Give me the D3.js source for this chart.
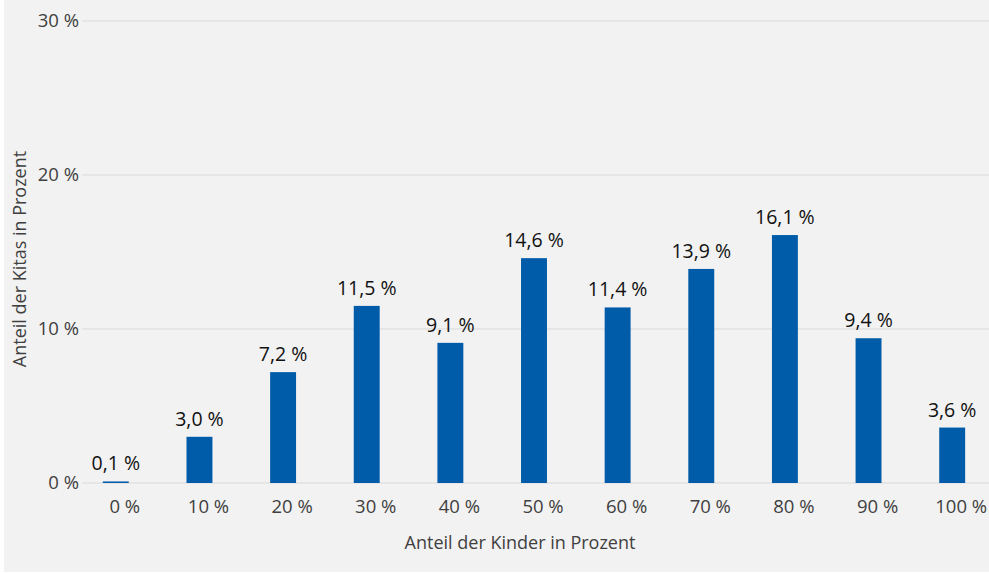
<!DOCTYPE html>
<html>
<head>
<meta charset="utf-8">
<script src="https://cdn.jsdelivr.net/npm/d3@7"></script>
<style>
  body { margin: 0; background: #fff; }
  text { font-family: "Open Sans", "Noto Sans", sans-serif; }
</style>
</head>
<body>
<svg width="989" height="573"></svg>
<script>
const categories = ["0 %", "10 %", "20 %", "30 %", "40 %", "50 %", "60 %", "70 %", "80 %", "90 %", "100 %"];
const values = [0.1, 3.0, 7.2, 11.5, 9.1, 14.6, 11.4, 13.9, 16.1, 9.4, 3.6];
const y_ticks = [0, 10, 20, 30];

const svg = d3.select("svg");

// grey panel behind the chart
svg.append("rect")
  .attr("x", 4).attr("y", 0)
  .attr("width", 985).attr("height", 572)
  .attr("fill", "#f2f2f2");

const x = d3.scaleBand().domain(categories).range([74, 994]).paddingInner(0.69).paddingOuter(0.345);
const y = d3.scaleLinear().domain([0, 30]).range([483, 21]);

const fmt = d => d.toFixed(1).replace(".", ",") + " %";

// gridlines
svg.append("g").selectAll("line")
  .data(y_ticks)
  .join("line")
  .attr("x1", 82).attr("x2", 989)
  .attr("y1", d => y(d)).attr("y2", d => y(d))
  .attr("stroke", "#d9d9d9")
  .attr("stroke-width", 1);

// y axis labels
const y_axis = svg.append("g")
  .attr("transform", "translate(80,0)")
  .call(d3.axisLeft(y).tickValues(y_ticks).tickSize(0).tickPadding(1).tickFormat(d => d + " %"));
y_axis.select(".domain").remove();
y_axis.selectAll("text").attr("font-size", 18.5).attr("fill", "#404040")
  .attr("font-family", "'Open Sans', sans-serif");

// x axis labels (sit a little right of the bar centres in the original)
const x_axis = svg.append("g")
  .attr("transform", "translate(9,483)")
  .call(d3.axisBottom(x).tickSize(0).tickPadding(17));
x_axis.select(".domain").remove();
x_axis.selectAll("text").attr("font-size", 18.5).attr("fill", "#404040")
  .attr("font-family", "'Open Sans', sans-serif");

// bars
svg.append("g").selectAll("rect")
  .data(values)
  .join("rect")
  .attr("x", (d, i) => x(categories[i]))
  .attr("y", d => y(d))
  .attr("width", x.bandwidth())
  .attr("height", d => y(0) - y(d))
  .attr("fill", "#005ca9");

// value labels
svg.append("g").selectAll("text")
  .data(values)
  .join("text")
  .attr("x", (d, i) => x(categories[i]) + x.bandwidth() / 2)
  .attr("y", d => y(d) - 11)
  .attr("text-anchor", "middle")
  .attr("font-size", 19.5)
  .attr("fill", "#111")
  .text(d => fmt(d));

// axis titles
svg.append("text")
  .attr("x", 520).attr("y", 549)
  .attr("text-anchor", "middle")
  .attr("font-size", 18)
  .attr("fill", "#404040")
  .text("Anteil der Kinder in Prozent");

svg.append("text")
  .attr("transform", "translate(26,259) rotate(-90)")
  .attr("text-anchor", "middle")
  .attr("font-size", 18)
  .attr("fill", "#404040")
  .text("Anteil der Kitas in Prozent");
</script>
</body>
</html>
